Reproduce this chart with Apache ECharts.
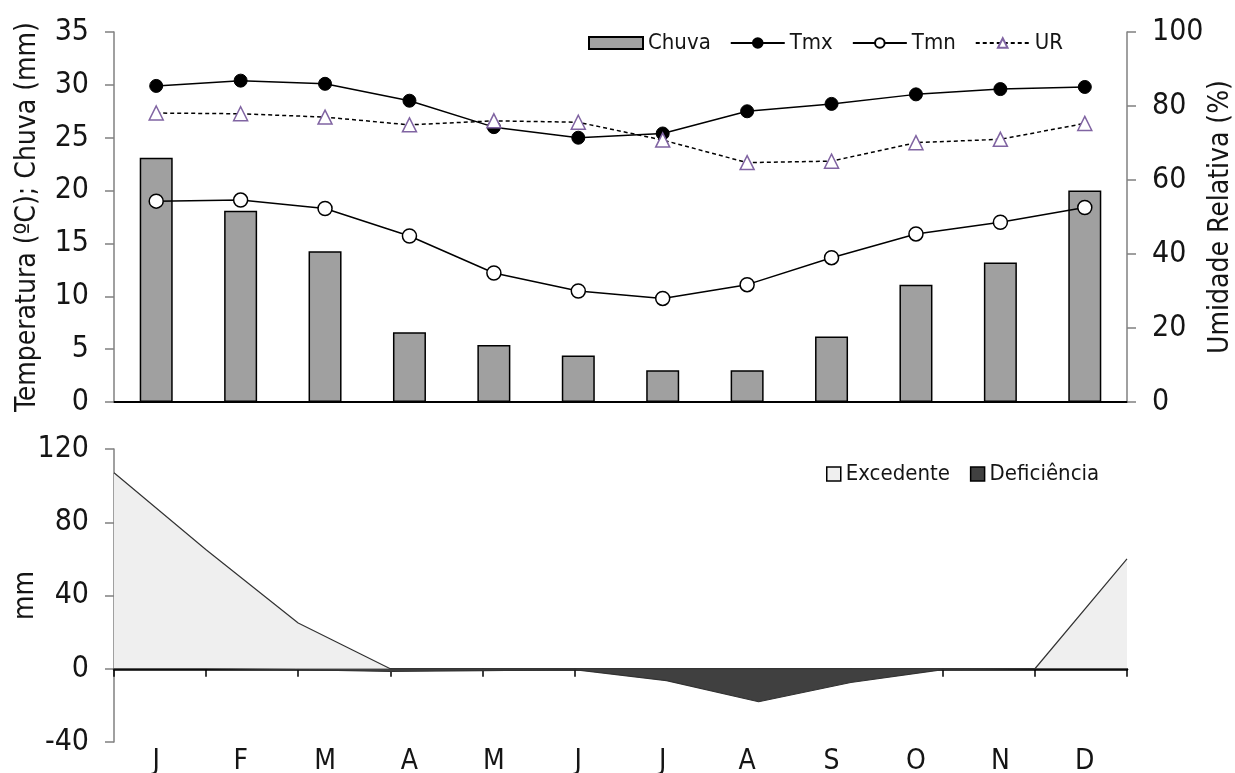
<!DOCTYPE html>
<html><head><meta charset="utf-8">
<script src="https://cdn.jsdelivr.net/npm/echarts@6/dist/echarts.min.js"></script>
<style>html,body{margin:0;padding:0;background:#fff;}#c{width:1235px;height:773px;}</style>
</head><body><div id="c"></div>
<script>
// ---- data ----
const months = ['J','F','M','A','M','J','J','A','S','O','N','D'];
const chuva = [23.1, 18.1, 14.25, 6.6, 5.4, 4.4, 3.0, 3.0, 6.2, 11.1, 13.2, 20.0];
const tmx   = [29.9, 30.4, 30.1, 28.5, 26.0, 25.0, 25.4, 27.5, 28.2, 29.1, 29.6, 29.8];
const tmn   = [19.0, 19.1, 18.3, 15.7, 12.2, 10.5, 9.8, 11.1, 13.65, 15.9, 17.0, 18.4];
const ur    = [78.1, 77.9, 77.0, 74.9, 76.0, 75.6, 70.8, 64.7, 65.1, 70.1, 71.0, 75.3];
const excedente   = [107, 65, 25, 0, 0, 0, 0, 0, 0, 0, 0, 60];
const deficiencia = [0, 0, -0.5, -1.5, -1, -0.5, -6.5, -18, -7.5, -0.5, 0, 0];
const leftTicks = {min:0, max:35, interval:5};
const rightTicks = {min:0, max:100, interval:20};
const bottomTicks = {min:-40, max:120, interval:40};

const FONT = '"Liberation Sans Narrow","Arial Narrow","DejaVu Sans Condensed",sans-serif';
const TXT = '#151515';
const GRAY = '#808080';

const chart = echarts.init(document.getElementById('c'));
const valAxisCommon = {
  type:'value',
  axisLine:{show:true, lineStyle:{color:GRAY, width:1.5}},
  axisTick:{show:true, length:9, lineStyle:{color:GRAY, width:1.5}},
  splitLine:{show:false},
  axisLabel:{fontSize:30, margin:25, color:TXT, fontFamily:FONT},
  nameLocation:'middle',
  nameMoveOverlap:false,
  nameTextStyle:{fontSize:28, color:TXT, fontFamily:FONT}
};
const option = {
  animation:false,
  backgroundColor:'#fff',
  textStyle:{fontFamily:FONT, color:TXT},
  grid:[
    {left:114, right:108, top:32, height:370, outerBoundsMode:'none', containLabel:false},
    {left:114, right:108, top:449, height:293, outerBoundsMode:'none', containLabel:false}
  ],
  legend:[
    {
      left:583, top:27, itemWidth:54, itemHeight:12, itemGap:19,
      textStyle:{fontSize:22, color:TXT, fontFamily:FONT},
      data:[{name:'Chuva', icon:'rect'},'Tmx','Tmn','UR']
    },
    {
      left:821, top:458, itemWidth:14, itemHeight:14, itemGap:20,
      textStyle:{fontSize:22, color:TXT, fontFamily:FONT},
      data:[
        {name:'Excedente', icon:'rect', itemStyle:{color:'#efefef', borderColor:'#000', borderWidth:1.5}},
        {name:'Deficiência', icon:'rect', itemStyle:{color:'#404040', borderColor:'#000', borderWidth:1.5}}
      ]
    }
  ],
  xAxis:[
    {gridIndex:0, type:'category', data:months, boundaryGap:true,
     axisLine:{lineStyle:{color:'#000', width:2}},
     axisTick:{length:9, lineStyle:{color:'#000', width:1.5}},
     axisLabel:{show:false}},
    {gridIndex:1, type:'category', data:months, boundaryGap:false, position:'bottom',
     axisLine:{onZero:true, lineStyle:{color:'#000', width:2.5}},
     axisTick:{length:8, lineStyle:{color:'#000', width:1.5}},
     axisLabel:{show:false}},
    {gridIndex:1, type:'category', data:months, boundaryGap:true, position:'bottom',
     axisLine:{show:false, onZero:false}, axisTick:{show:false},
     axisLabel:{fontSize:28, margin:6, color:TXT, fontFamily:FONT}}
  ],
  yAxis:[
    Object.assign({}, valAxisCommon, {gridIndex:0, min:leftTicks.min, max:leftTicks.max, interval:leftTicks.interval,
      name:'Temperatura (ºC); Chuva (mm)', nameGap:72}),
    Object.assign({}, valAxisCommon, {gridIndex:0, position:'right', min:rightTicks.min, max:rightTicks.max, interval:rightTicks.interval,
      name:'Umidade Relativa (%)', nameGap:80}),
    Object.assign({}, valAxisCommon, {gridIndex:1, min:bottomTicks.min, max:bottomTicks.max, interval:bottomTicks.interval,
      name:'mm', nameGap:74})
  ],
  series:[
    {name:'Chuva', type:'bar', xAxisIndex:0, yAxisIndex:0, data:chuva, barWidth:33,
     itemStyle:{color:'#a0a0a0', borderColor:'#000', borderWidth:1.5}},
    {name:'Tmx', type:'line', xAxisIndex:0, yAxisIndex:0, data:tmx, symbol:'circle', symbolSize:13,
     lineStyle:{color:'#000', width:1.5}, itemStyle:{color:'#000', borderColor:'#000', borderWidth:1}, z:3},
    {name:'Tmn', type:'line', xAxisIndex:0, yAxisIndex:0, data:tmn, symbol:'circle', symbolSize:14,
     lineStyle:{color:'#000', width:1.5}, itemStyle:{color:'#fff', borderColor:'#000', borderWidth:1.5}, z:3},
    {name:'UR', type:'line', xAxisIndex:0, yAxisIndex:1, data:ur, symbol:'triangle', symbolSize:14,
     lineStyle:{color:'#000', width:1.5, type:[4,3]}, itemStyle:{color:'#fff', borderColor:'#8064a2', borderWidth:1.5}, z:4},
    {name:'Excedente', type:'line', xAxisIndex:1, yAxisIndex:2, data:excedente, symbol:'none',
     lineStyle:{color:'#333', width:1.2}, areaStyle:{color:'#efefef', opacity:1}, itemStyle:{color:'#efefef'}},
    {name:'Deficiência', type:'line', xAxisIndex:1, yAxisIndex:2, data:deficiencia, symbol:'none',
     lineStyle:{color:'#333', width:1.2}, areaStyle:{color:'#404040', opacity:1}, itemStyle:{color:'#404040'}}
  ]
};
chart.setOption(option);
</script></body></html>
